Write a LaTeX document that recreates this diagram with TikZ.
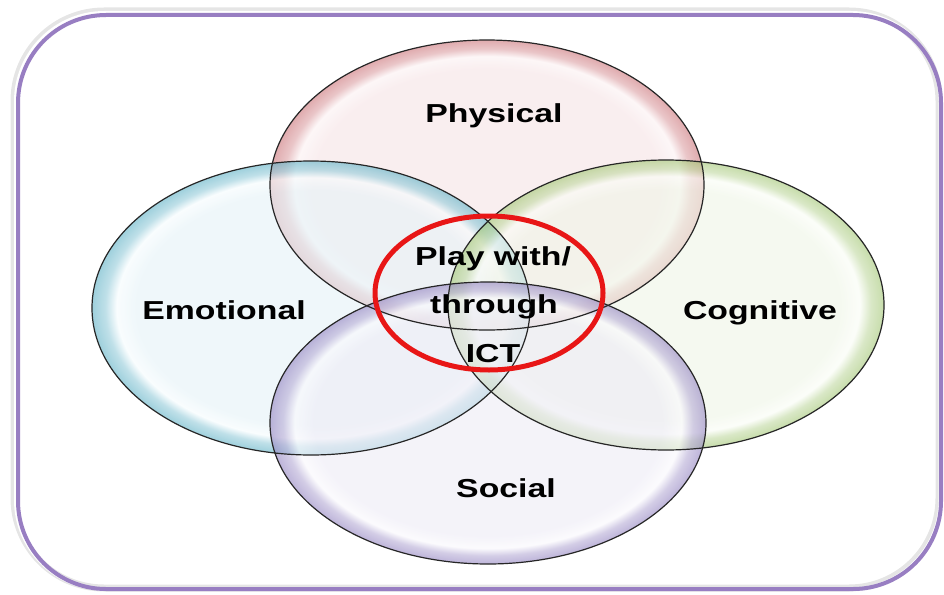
\documentclass[tikz,border=0pt]{standalone}
\usepackage{fontspec}
\setmainfont{Liberation Sans}
\usepackage{graphicx}
\definecolor{framec}{RGB}{152,126,194}
\definecolor{physin}{RGB}{246,228,230}
\definecolor{physhi}{RGB}{252,242,243}
\definecolor{physrim}{RGB}{205,120,125}
\definecolor{emoin}{RGB}{230,243,248}
\definecolor{emohi}{RGB}{246,252,254}
\definecolor{emorim}{RGB}{100,180,200}
\definecolor{cogin}{RGB}{240,246,232}
\definecolor{coghi}{RGB}{250,253,246}
\definecolor{cogrim}{RGB}{165,200,120}
\definecolor{socin}{RGB}{238,236,246}
\definecolor{sochi}{RGB}{250,249,253}
\definecolor{socrim}{RGB}{150,135,195}
\definecolor{ringred}{RGB}{232,22,22}
\pgfdeclareradialshading{physshade}{\pgfpoint{0bp}{0bp}}{color(0bp)=(physin); color(20bp)=(physin); color(22.2bp)=(physhi); color(23.5bp)=(physrim!60!physin); color(25bp)=(physrim); color(50bp)=(physrim)}
\pgfdeclareradialshading{emoshade}{\pgfpoint{0bp}{0bp}}{color(0bp)=(emoin); color(20bp)=(emoin); color(22.2bp)=(emohi); color(23.5bp)=(emorim!60!emoin); color(25bp)=(emorim); color(50bp)=(emorim)}
\pgfdeclareradialshading{cogshade}{\pgfpoint{0bp}{0bp}}{color(0bp)=(cogin); color(20bp)=(cogin); color(22.2bp)=(coghi); color(23.5bp)=(cogrim!60!cogin); color(25bp)=(cogrim); color(50bp)=(cogrim)}
\pgfdeclareradialshading{socshade}{\pgfpoint{0bp}{0bp}}{color(0bp)=(socin); color(20bp)=(socin); color(22.2bp)=(sochi); color(23.5bp)=(socrim!60!socin); color(25bp)=(socrim); color(50bp)=(socrim)}
\tikzset{
  bubble/.style={fill opacity=0.62},
  rimline/.style={draw=black!85, line width=1.2pt},
  lbl/.style={anchor=base, inner sep=0pt, font=\fontsize{26}{30}\selectfont\bfseries, text=black},
  frame/.style={draw=framec, line width=4pt, rounded corners=88pt},
}
\newcommand{\wide}[1]{\scalebox{1.3}[1]{#1}}
\begin{document}
\begin{tikzpicture}[x=1pt,y=-1pt]
\useasboundingbox (0,0) rectangle (944,594);
\fill[white] (0,0) rectangle (944,594);
% frame shadow and frame
\draw[draw=black, opacity=0.10, line width=7pt, rounded corners=90pt] (14,11) rectangle (939,588);
\draw[draw=white, line width=3pt, rounded corners=89pt] (15.5,12.5) rectangle (940,589);
\draw[frame] (18,15) rectangle (941,589);
% bubbles
\path[bubble, shading=physshade] (487,185) ellipse [x radius=217, y radius=145];
\path[bubble, shading=emoshade] (311,308) ellipse [x radius=219, y radius=147];
\path[bubble, shading=cogshade] (666,305) ellipse [x radius=218, y radius=145];
\path[bubble, shading=socshade] (488,423) ellipse [x radius=218, y radius=141];
% outlines
\draw[rimline] (487,185) ellipse [x radius=217, y radius=145];
\draw[rimline] (311,308) ellipse [x radius=219, y radius=147];
\draw[rimline] (666,305) ellipse [x radius=218, y radius=145];
\draw[rimline] (488,423) ellipse [x radius=218, y radius=141];
% red ring
\draw[ringred, line width=5pt] (489,293) ellipse [x radius=114, y radius=77];
% labels
\node[lbl] (phys) at (494,122) {\wide{Physical}};
\node[lbl] (emo) at (224,319) {\wide{Emotional}};
\node[lbl] (cog) at (760,319) {\wide{Cognitive}};
\node[lbl] (soc) at (506,497) {\wide{Social}};
\node[lbl] (play1) at (493,265) {\wide{Play with/}};
\node[lbl] (play2) at (494,313) {\wide{through}};
\node[lbl] (play3) at (493,362) {\wide{ICT}};
\end{tikzpicture}
\end{document}
